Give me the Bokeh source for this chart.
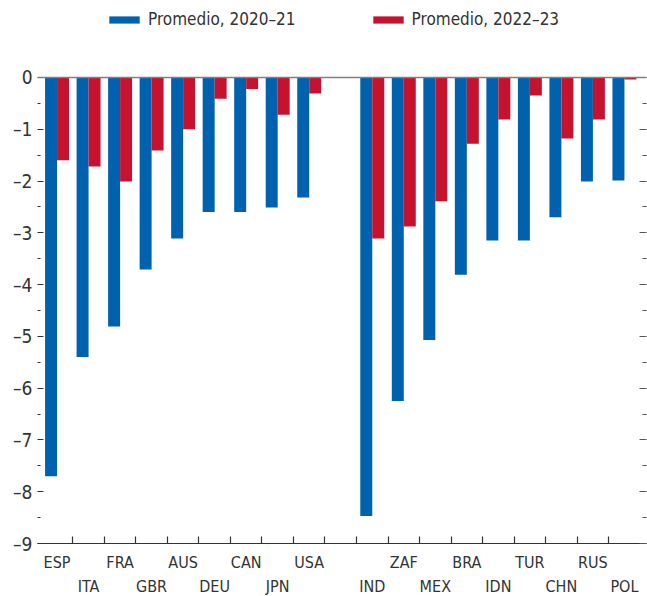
from bokeh.plotting import figure
from bokeh.models import (ColumnDataSource, Range1d, LinearAxis, FixedTicker, Span,
                          Legend, LegendItem)
from bokeh.transform import dodge
from bokeh.embed import file_html
from bokeh.resources import INLINE

# ---- data ----
advanced = ["ESP", "ITA", "FRA", "GBR", "AUS", "DEU", "CAN", "JPN", "USA"]
emerging = ["IND", "ZAF", "MEX", "BRA", "IDN", "TUR", "CHN", "RUS", "POL"]
prom_2020_21_adv = [-7.70, -5.40, -4.81, -3.71, -3.11, -2.60, -2.60, -2.51, -2.32]
prom_2022_23_adv = [-1.60, -1.72, -2.01, -1.41, -1.00, -0.41, -0.22, -0.72, -0.31]
prom_2020_21_em = [-8.47, -6.25, -5.07, -3.81, -3.15, -3.15, -2.70, -2.01, -1.99]
prom_2022_23_em = [-3.11, -2.88, -2.39, -1.28, -0.81, -0.35, -1.18, -0.81, -0.04]
series_labels = ["Promedio, 2020–21", "Promedio, 2022–23"]
y_ticks = [-9, -8, -7, -6, -5, -4, -3, -2, -1, 0]

BLUE = "#0061AF"
RED = "#C5122F"
FONT = "'DejaVu Sans Condensed', Roboto"
TXT = "#333333"

countries = advanced + emerging
# one empty slot between the two groups
xpos = list(range(len(advanced))) + [len(advanced) + 1 + i for i in range(len(emerging))]
src = ColumnDataSource(dict(
    x=xpos,
    a=prom_2020_21_adv + prom_2020_21_em,
    b=prom_2022_23_adv + prom_2022_23_em,
))

n_slots = len(advanced) + 1 + len(emerging)
p = figure(frame_width=609, frame_height=543,
           x_range=Range1d(-0.62, n_slots - 0.5 + 0.2),
           y_range=Range1d(-9, 1.487),
           x_axis_type=None, y_axis_type=None,
           output_backend="svg", toolbar_location=None,
           min_border=0, min_border_left=37, min_border_right=1)
p.outline_line_color = None
p.background_fill_color = "white"

bw = 0.38
r1 = p.vbar(x=dodge("x", -bw / 2), top="a", bottom=0, width=bw, source=src,
            fill_color=BLUE, line_color=None)
r2 = p.vbar(x=dodge("x", bw / 2), top="b", bottom=0, width=bw, source=src,
            fill_color=RED, line_color=None)

p.add_layout(Span(location=0, dimension="width", line_color="#808080", line_width=1.5))

# y axes
minor_y = [t + 0.5 for t in y_ticks[:-1]]
ylab = {t: ("0" if t == 0 else "–" + str(abs(t))) for t in y_ticks}
yl = LinearAxis(ticker=FixedTicker(ticks=y_ticks, minor_ticks=minor_y),
                major_label_overrides=ylab,
                axis_line_color=None,
                major_tick_in=6, major_tick_out=0, minor_tick_in=3, minor_tick_out=0,
                major_tick_line_color="#333333", minor_tick_line_color="#333333",
                major_label_standoff=5,
                major_label_text_font=FONT, major_label_text_font_size="19px",
                major_label_text_color=TXT)
p.add_layout(yl, "left")
yr = LinearAxis(ticker=FixedTicker(ticks=y_ticks, minor_ticks=minor_y),
                major_label_overrides={t: "" for t in y_ticks},
                axis_line_color=None,
                major_tick_in=7, major_tick_out=0, minor_tick_in=4, minor_tick_out=0,
                major_tick_line_color="#555555", minor_tick_line_color="#555555",
                major_label_standoff=0)
p.add_layout(yr, "right")

# x axes: boundary ticks + two alternating label rows
bounds = [i + 0.5 for i in range(n_slots - 1)]
top_idx = [i for i in range(len(countries)) if i % 2 == 0]
bot_idx = [i for i in range(len(countries)) if i % 2 == 1]
top_pos = [xpos[i] for i in top_idx]
bot_pos = [xpos[i] for i in bot_idx]

xa = LinearAxis(ticker=FixedTicker(ticks=top_pos, minor_ticks=bounds),
                major_label_overrides={xpos[i]: countries[i] for i in top_idx},
                axis_line_color="#333333", axis_line_width=1.2,
                major_tick_in=0, major_tick_out=0, major_tick_line_color=None,
                minor_tick_in=7, minor_tick_out=0, minor_tick_line_color="#333333",
                minor_tick_line_width=1.2,
                major_label_standoff=9,
                major_label_text_font=FONT, major_label_text_font_size="16px",
                major_label_text_color=TXT)
p.add_layout(xa, "below")
xb = LinearAxis(ticker=FixedTicker(ticks=bot_pos, minor_ticks=[]),
                major_label_overrides={xpos[i]: countries[i] for i in bot_idx},
                axis_line_color=None, major_tick_line_color=None, minor_tick_line_color=None,
                major_tick_in=0, major_tick_out=0,
                major_label_standoff=2,
                major_label_text_font=FONT, major_label_text_font_size="16px",
                major_label_text_color=TXT)
p.add_layout(xb, "below")

legend = Legend(items=[LegendItem(label=series_labels[0], renderers=[r1]),
                       LegendItem(label=series_labels[1], renderers=[r2])],
                location=(68, 514), orientation="horizontal",
                glyph_width=38, glyph_height=9, label_standoff=5, spacing=73,
                padding=0, margin=0, border_line_color=None, background_fill_alpha=0,
                label_text_font=FONT, label_text_font_size="17px",
                label_text_color=TXT)
p.add_layout(legend)

open("out.html", "w").write(file_html(p, INLINE))
